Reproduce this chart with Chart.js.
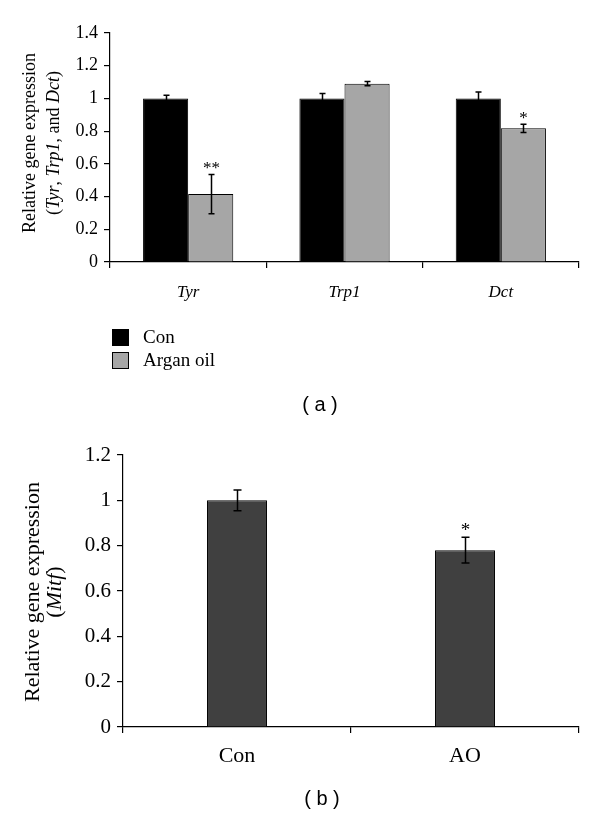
<!DOCTYPE html>
<html>
<head>
<meta charset="utf-8">
<script src="https://cdn.jsdelivr.net/npm/chart.js@4"></script>
<style>
  body { margin: 0; background: #fff; width: 600px; height: 817px; position: relative; overflow: hidden; }
  .panel { position: absolute; left: 0; width: 600px; }
  .legend { position: absolute; left: 112px; top: 327px; font: 19px "Liberation Serif", serif; color: #000; }
  .legend div { height: 20px; line-height: 20px; position: relative; padding-left: 31px; margin-bottom: 3px; }
  .legend span { position: absolute; left: 0; top: 2px; width: 15px; height: 15px; border: 1px solid #000; }
  .tag { position: absolute; font: 20px "Liberation Sans", Arial, sans-serif; color: #000; transform: translateX(-50%); }
</style>
</head>
<body>
<div class="panel" style="top:0;height:420px"><canvas id="chartA" width="600" height="420"></canvas></div>
<div class="legend">
  <div><span style="background:#000"></span>Con</div>
  <div><span style="background:#a6a6a6"></span>Argan oil</div>
</div>
<div class="tag" style="left:320px;top:393px">( a )</div>
<div class="panel" style="top:420px;height:397px"><canvas id="chartB" width="600" height="397"></canvas></div>
<div class="tag" style="left:322px;top:787px">( b )</div>
<script>
// panel (a): Tyr / Trp1 / Dct
const genes = ['Tyr', 'Trp1', 'Dct'];
const conValues = [1, 1, 1];
const conErrors = [0.02, 0.03, 0.04];
const aoValues = [0.415, 1.09, 0.817];
const aoErrors = [0.12, 0.013, 0.025];
const aoMarks = ['**', '', '*'];
const ticksA = [0, 0.2, 0.4, 0.6, 0.8, 1, 1.2, 1.4];

// panel (b): Mitf
const groupsB = ['Con', 'AO'];
const mitfValues = [1, 0.78];
const mitfErrors = [0.046, 0.057];
const mitfMarks = ['', '*'];
const ticksB = [0, 0.2, 0.4, 0.6, 0.8, 1, 1.2];

const SERIF = '"Liberation Serif", "Times New Roman", serif';

// error bars + significance stars
const errorBars = {
  id: 'errorBars',
  afterDatasetsDraw(chart, args, opts) {
    const ctx = chart.ctx;
    const y = chart.scales.y;
    chart.data.datasets.forEach((ds, di) => {
      const meta = chart.getDatasetMeta(di);
      meta.data.forEach((bar, i) => {
        const v = ds.data[i], e = ds.errors[i];
        const x = Math.round(bar.x) + 0.5;
        const top = y.getPixelForValue(v + e);
        const bot = y.getPixelForValue(v - e);
        ctx.save();
        ctx.strokeStyle = '#000';
        ctx.lineWidth = 1.5;
        ctx.beginPath();
        ctx.moveTo(x, top); ctx.lineTo(x, bot);
        ctx.moveTo(x - opts.cap, top); ctx.lineTo(x + opts.cap, top);
        ctx.moveTo(x - opts.cap, bot); ctx.lineTo(x + opts.cap, bot);
        ctx.stroke();
        if (ds.marks && ds.marks[i]) {
          ctx.fillStyle = '#000';
          ctx.font = opts.starFont;
          ctx.textAlign = 'center';
          ctx.textBaseline = 'alphabetic';
          ctx.fillText(ds.marks[i], x, top + opts.starOffset);
        }
        ctx.restore();
      });
    });
  }
};

// rotated y title with italic pieces; lines = [[text, italic], ...]
const yTitle = {
  id: 'yTitle',
  afterDraw(chart, args, opts) {
    const ctx = chart.ctx;
    ctx.save();
    ctx.fillStyle = '#000';
    ctx.textBaseline = 'middle';
    opts.lines.forEach((parts, li) => {
      const fonts = parts.map(p => (p[1] ? 'italic ' : '') + opts.size + 'px ' + SERIF);
      let total = 0;
      parts.forEach((p, k) => { ctx.font = fonts[k]; total += ctx.measureText(p[0]).width; });
      ctx.save();
      ctx.translate(opts.x[li], opts.cy);
      ctx.rotate(-Math.PI / 2);
      let pos = -total / 2;
      ctx.textAlign = 'left';
      parts.forEach((p, k) => {
        ctx.font = fonts[k];
        ctx.fillText(p[0], pos, 0);
        pos += ctx.measureText(p[0]).width;
      });
      ctx.restore();
    });
    ctx.restore();
  }
};

function axes(ticks, yWidth, tickSize, xSize, xItalic, xPad) {
  return {
    x: {
      offset: true,
      grid: { offset: true, drawOnChartArea: false, color: '#000', tickLength: 6, lineWidth: 1.2 },
      border: { color: '#000', width: 1.2 },
      ticks: { color: '#000', padding: xPad, font: { family: SERIF, size: xSize, style: xItalic ? 'italic' : 'normal' } },
      afterFit: s => { s.height = 40; }
    },
    y: {
      min: ticks[0],
      max: ticks[ticks.length - 1],
      afterBuildTicks: s => { s.ticks = ticks.map(v => ({ value: v })); },
      grid: { drawOnChartArea: false, color: '#000', tickLength: 6, lineWidth: 1.2 },
      border: { color: '#000', width: 1.2 },
      ticks: { color: '#000', padding: 6, font: { family: SERIF, size: tickSize }, callback: v => String(+v.toFixed(1)) },
      afterFit: s => { s.width = yWidth; }
    }
  };
}

new Chart(document.getElementById('chartA'), {
  type: 'bar',
  data: {
    labels: genes,
    datasets: [
      { label: 'Con', data: conValues, errors: conErrors, backgroundColor: '#000', borderColor: '#000', borderWidth: 1,
        categoryPercentage: 0.577, barPercentage: 1 },
      { label: 'Argan oil', data: aoValues, errors: aoErrors, marks: aoMarks, backgroundColor: '#a6a6a6', borderColor: '#000', borderWidth: 1,
        categoryPercentage: 0.577, barPercentage: 1 }
    ]
  },
  options: {
    responsive: false,
    animation: false,
    layout: { padding: { left: 0, right: 21, top: 33, bottom: 118 } },
    plugins: {
      legend: { display: false },
      tooltip: { enabled: false },
      errorBars: { cap: 3, starFont: '17px ' + SERIF, starOffset: -1 },
      yTitle: { size: 18, x: [30, 54], cy: 143, lines: [
        [['Relative gene expression', false]],
        [['(', false], ['Tyr', true], [', ', false], ['Trp1', true], [', and ', false], ['Dct', true], [')', false]]
      ] }
    },
    scales: axes(ticksA, 110, 18, 17, true, 14)
  },
  plugins: [errorBars, yTitle]
});

new Chart(document.getElementById('chartB'), {
  type: 'bar',
  data: {
    labels: groupsB,
    datasets: [
      { label: 'Mitf', data: mitfValues, errors: mitfErrors, marks: mitfMarks, backgroundColor: '#404040', borderColor: '#000', borderWidth: 1,
        categoryPercentage: 0.263, barPercentage: 1 }
    ]
  },
  options: {
    responsive: false,
    animation: false,
    layout: { padding: { left: 0, right: 21, top: 35, bottom: 50 } },
    plugins: {
      legend: { display: false },
      tooltip: { enabled: false },
      errorBars: { cap: 4, starFont: '19px ' + SERIF, starOffset: -1 },
      yTitle: { size: 22, x: [33, 55], cy: 172, lines: [
        [['Relative gene expression', false]],
        [['(', false], ['Mitf', true], [')', false]]
      ] }
    },
    scales: axes(ticksB, 123, 21, 22, false, 10)
  },
  plugins: [errorBars, yTitle]
});
</script>
</body>
</html>
